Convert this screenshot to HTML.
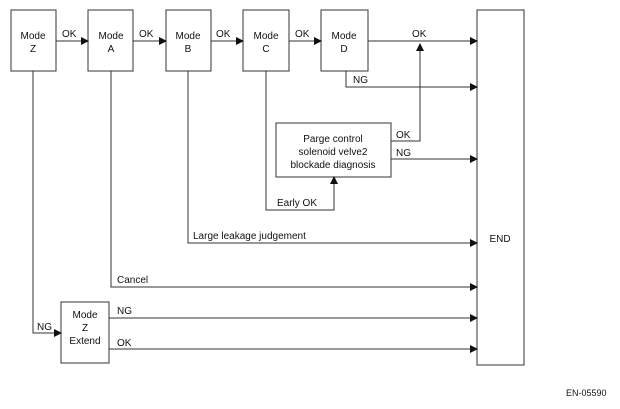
<!DOCTYPE html>
<html><head><style>
body{margin:0;background:#fff;}
svg text{font-family:"Liberation Sans",sans-serif;font-size:10px;fill:#111;}
</style></head><body>
<svg width="620" height="404" viewBox="0 0 620 404" xmlns="http://www.w3.org/2000/svg">
<defs><marker id="a" markerWidth="8" markerHeight="8" refX="7" refY="4" orient="auto" markerUnits="userSpaceOnUse"><path d="M0,0 L8,4 L0,8 Z" fill="#111"/></marker></defs>
<g fill="none" stroke="#333" stroke-width="1">
<rect x="11" y="10" width="45" height="61"/>
<rect x="88" y="10" width="45" height="61"/>
<rect x="166" y="10" width="45" height="61"/>
<rect x="243" y="10" width="46" height="61"/>
<rect x="321" y="10" width="47" height="61"/>
<rect x="477" y="10" width="47" height="355"/>
<rect x="276" y="123" width="115" height="54"/>
<rect x="61" y="302" width="48" height="61"/>
<path d="M56,41 H88" marker-end="url(#a)"/>
<path d="M133,41 H166" marker-end="url(#a)"/>
<path d="M211,41 H243" marker-end="url(#a)"/>
<path d="M289,41 H321" marker-end="url(#a)"/>
<path d="M368,41 H477" marker-end="url(#a)"/>
<path d="M346,71 V87 H477" marker-end="url(#a)"/>
<path d="M391,141 H420 V44" marker-end="url(#a)"/>
<path d="M391,159 H477" marker-end="url(#a)"/>
<path d="M266,71 V210 H334 V177" marker-end="url(#a)"/>
<path d="M188,71 V243 H477" marker-end="url(#a)"/>
<path d="M111,71 V287 H477" marker-end="url(#a)"/>
<path d="M33,71 V333 H61" marker-end="url(#a)"/>
<path d="M109,318 H477" marker-end="url(#a)"/>
<path d="M109,349 H477" marker-end="url(#a)"/>
</g>
<g text-anchor="middle">
<text x="33" y="39">Mode</text><text x="33" y="52">Z</text>
<text x="111" y="39">Mode</text><text x="111" y="52">A</text>
<text x="188" y="39">Mode</text><text x="188" y="52">B</text>
<text x="266" y="39">Mode</text><text x="266" y="52">C</text>
<text x="344" y="39">Mode</text><text x="344" y="52">D</text>
<text x="85" y="318">Mode</text><text x="85" y="331">Z</text><text x="85" y="344">Extend</text>
<text x="333" y="142">Parge control</text>
<text x="333" y="155">solenoid velve2</text>
<text x="333" y="168">blockade diagnosis</text>
<text x="500" y="242">END</text>
</g>
<text x="62" y="37">OK</text><text x="139" y="37">OK</text><text x="216" y="37">OK</text><text x="295" y="37">OK</text>
<text x="412" y="37">OK</text>
<text x="353" y="83">NG</text>
<text x="396" y="138">OK</text>
<text x="396" y="156">NG</text>
<text x="277" y="206">Early OK</text>
<text x="193" y="239">Large leakage judgement</text>
<text x="117" y="283">Cancel</text>
<text x="37" y="330">NG</text>
<text x="117" y="314">NG</text>
<text x="117" y="346">OK</text>
<text x="566" y="396" style="font-size:9px">EN-05590</text>
</svg>
</body></html>
